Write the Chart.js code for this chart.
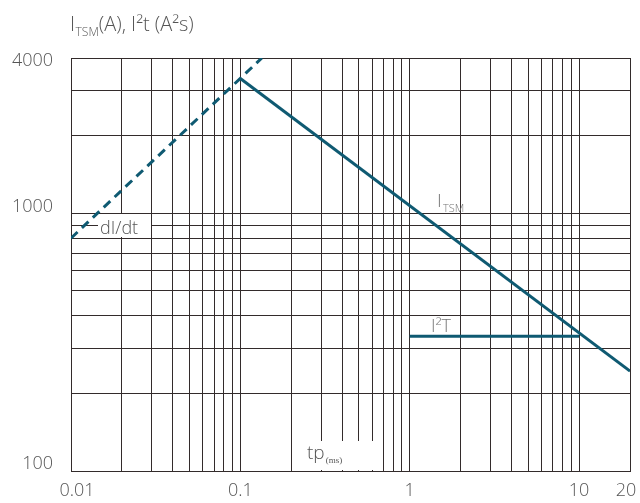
<!DOCTYPE html>
<html>
<head>
<meta charset="utf-8">
<script src="https://cdn.jsdelivr.net/npm/chart.js@4.4.1/dist/chart.umd.min.js"></script>
<style>
  html, body { margin: 0; padding: 0; background: #ffffff; }
  #wrap { width: 640px; height: 503px; position: relative; }
</style>
</head>
<body>
<div id="wrap"><canvas id="c"></canvas></div>
<script>
// ---- data ----
const xGridValues = [0.01,0.02,0.03,0.04,0.05,0.06,0.07,0.08,0.09,
                     0.1,0.2,0.3,0.4,0.5,0.6,0.7,0.8,0.9,
                     1,2,3,4,5,6,7,8,9,10,20];
const xTickLabels = ['0.01','0.1','1','10','20'];
const yGridValues = [100,200,300,400,500,600,700,800,900,1000,2000,3000,4000];
const yTickLabels = ['100','1000','4000'];

const dIdtX = [0.01, 0.134];
const dIdtY = [800, 4000];
const itsmX = [0.1, 20];
const itsmY = [3330, 244];
const i2tX  = [1, 10];
const i2tY  = [333, 333];

const toPoints = (xs, ys) => xs.map((x, i) => ({ x: x, y: ys[i] }));

// ---- styles ----
const TEAL = '#0f5a72';
const GRID = '#332b2b';
const TXT = '#555555';
const FONT = '"Open Sans", "Liberation Sans", sans-serif';
const labelNudge = { y: { '4000': 3, '1000': -6, '100': -7 }, x: { '0.01': 6, '20': -4 } };

function fmt(v) { return String(parseFloat(v.toPrecision(6))); }

const nudgePlugin = {
  id: 'nudge',
  beforeDraw(chart) {
    ['x', 'y'].forEach(id => {
      const s = chart.scales[id];
      const items = s.getLabelItems();
      items.forEach(it => {
        const k = String(it.label);
        const d = labelNudge[id][k];
        if (d && it.options && it.options.translation) {
          if (id === 'x') it.options.translation[0] += d;
          else it.options.translation[1] += d;
        }
      });
    });
  }
};

const boxesPlugin = {
  id: 'boxes',
  beforeDatasetsDraw(chart) {
    const ctx = chart.ctx;
    ctx.save();
    ctx.fillStyle = '#ffffff';
    ctx.fillRect(98, 214, 53, 23);   // behind "dI/dt"
    ctx.fillRect(296, 441, 84, 29);  // behind "tp(ms)"
    ctx.restore();
  }
};

const textPlugin = {
  id: 'texts',
  afterDraw(chart) {
    const ctx = chart.ctx;
    ctx.save();
    ctx.textBaseline = 'alphabetic';
    ctx.textAlign = 'left';
    // title
    let x = 70;
    ctx.fillStyle = TXT;
    ctx.font = '300 20px ' + FONT;
    ctx.fillText('I', x, 31); x += ctx.measureText('I').width + 0.5;
    ctx.font = '300 12px ' + FONT;
    ctx.fillText('TSM', x, 36); x += ctx.measureText('TSM').width;
    ctx.font = '300 20px ' + FONT;
    ctx.fillText('(A), I²t (A²s)', x, 31);

    // ITSM label
    ctx.fillStyle = '#777777';
    ctx.font = '300 19px ' + FONT;
    ctx.fillText('I', 437, 207);
    ctx.font = '300 11px ' + FONT;
    ctx.fillText('TSM', 443, 212);

    // I²T label
    ctx.font = '300 18px ' + FONT;
    ctx.fillText('I²T', 431, 332);

    // dI/dt label
    ctx.fillStyle = TXT;
    ctx.font = '300 18px ' + FONT;
    ctx.fillText('dI/dt', 100, 234);

    // tp(ms)
    ctx.font = '300 19px ' + FONT;
    ctx.fillText('tp', 307, 459);
    const w = ctx.measureText('tp').width;
    ctx.font = '9px "Liberation Serif", "DejaVu Serif", serif';
    ctx.fillText('(ms)', 307 + w + 1, 463);
    ctx.restore();
  }
};

new Chart(document.getElementById('c'), {
  type: 'scatter',
  data: {
    datasets: [
      { label: 'dI/dt', data: toPoints(dIdtX, dIdtY), showLine: true, borderColor: TEAL,
        borderWidth: 3, borderDash: [9, 6], pointRadius: 0, fill: false },
      { label: 'ITSM', data: toPoints(itsmX, itsmY), showLine: true, borderColor: TEAL,
        borderWidth: 3, pointRadius: 0, fill: false },
      { label: 'I2T', data: toPoints(i2tX, i2tY), showLine: true, borderColor: TEAL,
        borderWidth: 3, pointRadius: 0, fill: false }
    ]
  },
  options: {
    responsive: true,
    maintainAspectRatio: false,
    animation: false,
    events: [],
    layout: { padding: { top: 58, right: 10, left: 0, bottom: 0 } },
    plugins: { legend: { display: false }, tooltip: { enabled: false }, title: { display: false } },
    scales: {
      x: {
        type: 'logarithmic',
        min: 0.01, max: 20,
        afterBuildTicks(s) { s.ticks = xGridValues.map(v => ({ value: v })); },
        afterFit(s) { s.height = 32; s.paddingLeft = 0; s.paddingRight = 0; },
        grid: { color: GRID, lineWidth: 1, drawTicks: false },
        border: { display: true, color: GRID, width: 1 },
        ticks: {
          autoSkip: false, maxRotation: 0, minRotation: 0, padding: 9,
          color: TXT, font: { family: FONT, size: 18, weight: '300' },
          callback(v) { const s = fmt(v); return xTickLabels.includes(s) ? s : ''; }
        }
      },
      y: {
        type: 'logarithmic',
        min: 100, max: 4000,
        afterBuildTicks(s) { s.ticks = yGridValues.map(v => ({ value: v })); },
        afterFit(s) { s.width = 71; s.paddingTop = 0; s.paddingBottom = 0; },
        grid: { color: GRID, lineWidth: 1, drawTicks: false },
        border: { display: true, color: GRID, width: 1 },
        ticks: {
          autoSkip: false, padding: 18,
          color: TXT, font: { family: FONT, size: 18, weight: '300' },
          callback(v) { const s = fmt(v); return yTickLabels.includes(s) ? s : ''; }
        }
      }
    }
  },
  plugins: [nudgePlugin, boxesPlugin, textPlugin]
});
</script>
</body>
</html>
